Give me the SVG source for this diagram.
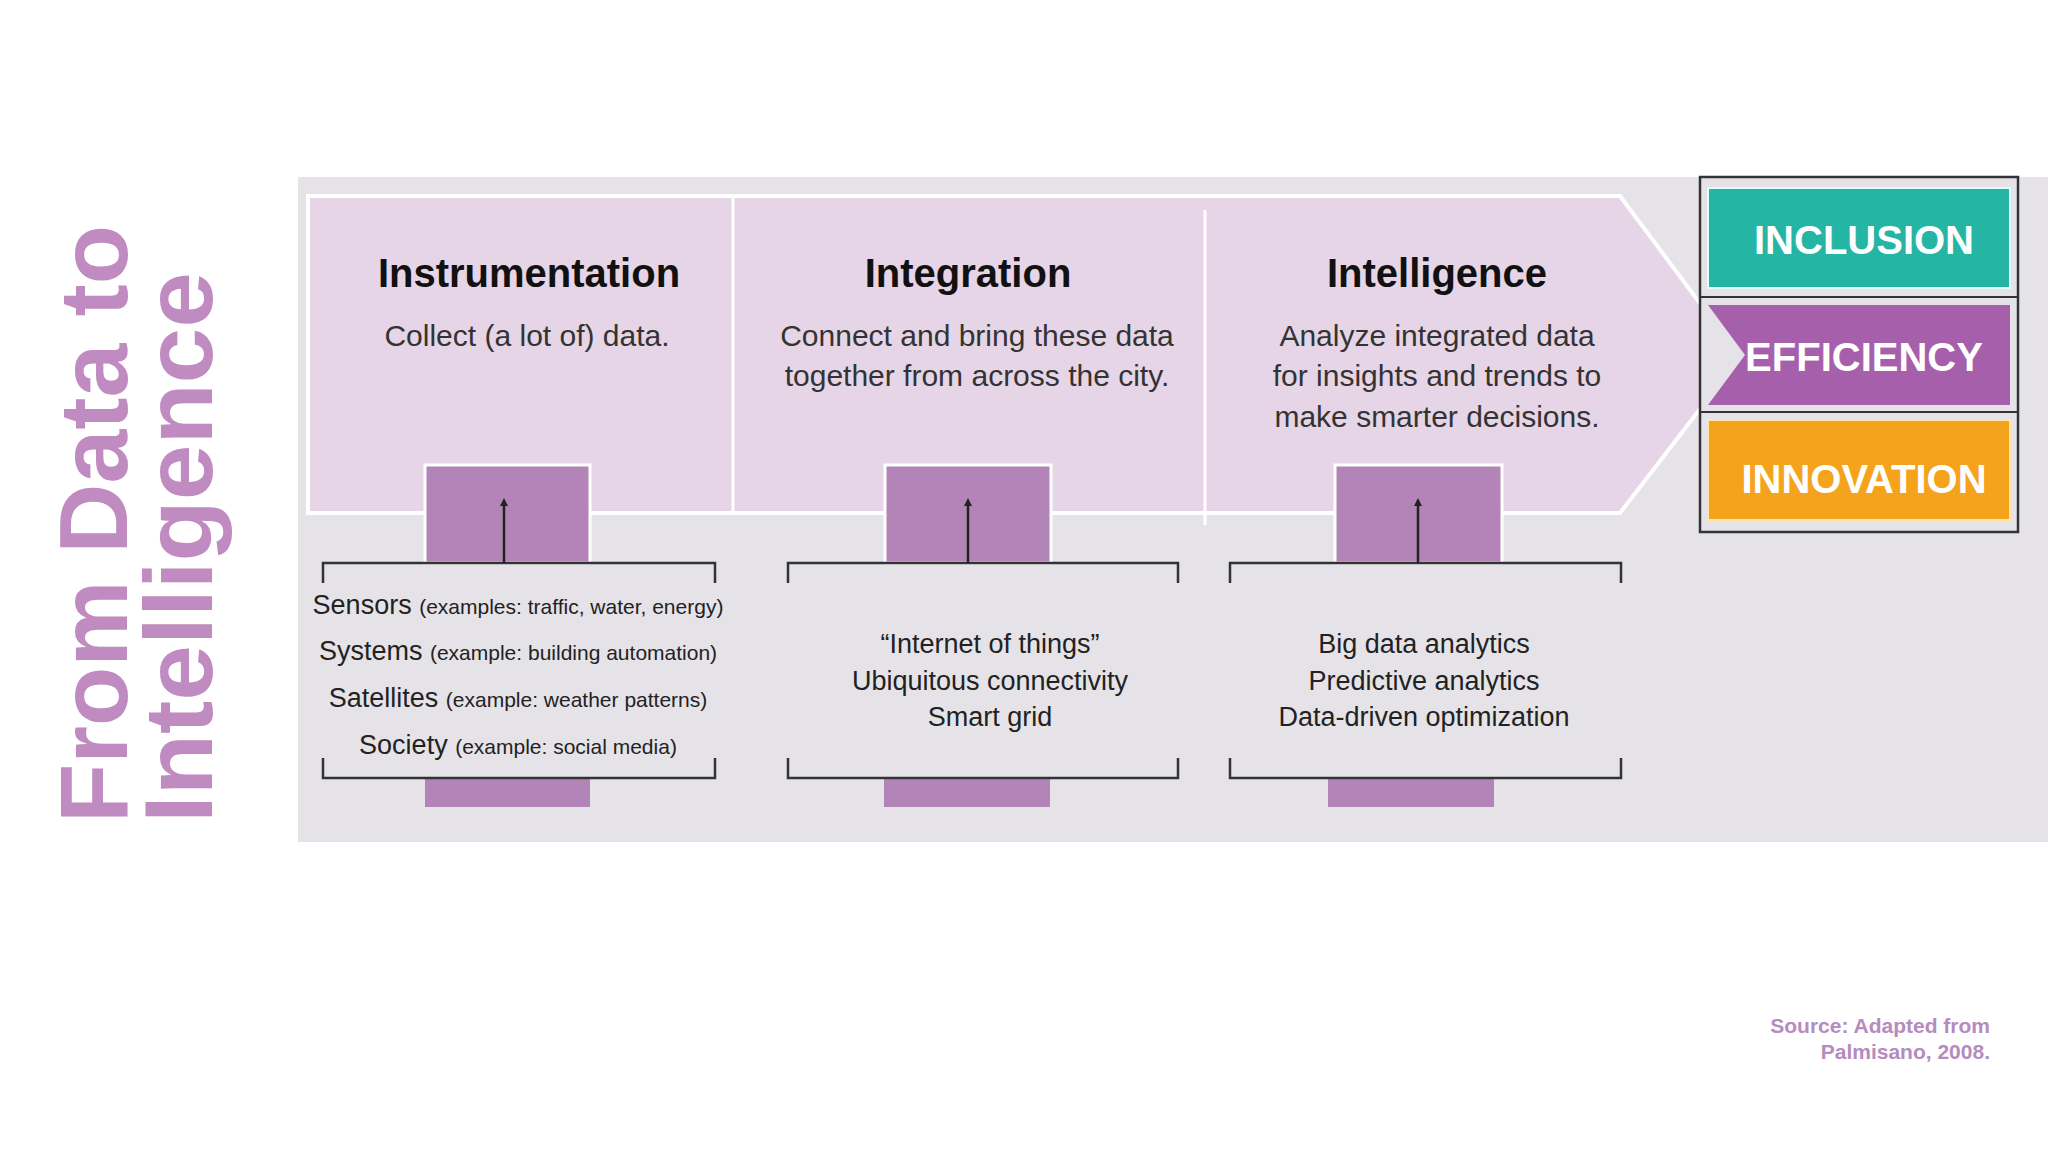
<svg xmlns="http://www.w3.org/2000/svg" width="2048" height="1152" viewBox="0 0 2048 1152">
<defs>
<style>
.t{font-family:"Liberation Sans",Arial,sans-serif;fill:#111;text-anchor:middle}
.h{font-weight:bold;font-size:40px}
.s{font-size:30px;fill:#333}
.b{font-size:27px;fill:#222}
.e{font-size:21px}
.stub{fill:#b384b8}
.br{fill:none;stroke:#333;stroke-width:2.5}
.ar{stroke:#222;stroke-width:2.5;marker-end:url(#ah)}
.big{font-family:"Liberation Sans",Arial,sans-serif;font-weight:bold;fill:#fff;text-anchor:middle;font-size:40px}
</style>
<marker id="ah" markerWidth="8" markerHeight="8" refX="4" refY="4" orient="auto" markerUnits="userSpaceOnUse"><path d="M0,0 L8,4 L0,8 Z" fill="#222"/></marker>
</defs>
<rect width="2048" height="1152" fill="#fff"/>
<rect x="298" y="177" width="1750" height="665" fill="#e5e3e8"/>
<g id="panel">
<path d="M308,196 L1620,196 L1740,357 L1620,513 L308,513 Z" fill="#e6d5e6" stroke="#fff" stroke-width="4"/>
<line x1="733" y1="196" x2="733" y2="513" stroke="#fff" stroke-width="3"/>
<line x1="1205" y1="210" x2="1205" y2="525" stroke="#fff" stroke-width="3"/>
</g>
<g id="col1">
<text class="t h" x="529" y="287">Instrumentation</text>
<text class="t s" x="527" y="346">Collect (a lot of) data.</text>
<rect class="stub" x="425" y="465" width="165" height="98" stroke="#fff" stroke-width="3"/>
<rect class="stub" x="425" y="778" width="165" height="29"/>
<path class="br" d="M323,583 V563 H715 V583 M323,758 V778 H715 V758"/>
<text class="t b" x="518" y="614">Sensors <tspan class="e">(examples: traffic, water, energy)</tspan></text>
<text class="t b" x="518" y="660">Systems <tspan class="e">(example: building automation)</tspan></text>
<text class="t b" x="518" y="707">Satellites <tspan class="e">(example: weather patterns)</tspan></text>
<text class="t b" x="518" y="754">Society <tspan class="e">(example: social media)</tspan></text>
</g>
<g id="col2">
<text class="t h" x="968" y="287">Integration</text>
<text class="t s" x="977" y="346">Connect and bring these data</text>
<text class="t s" x="977" y="386">together from across the city.</text>
<rect class="stub" x="885" y="465" width="166" height="98" stroke="#fff" stroke-width="3"/>
<rect class="stub" x="884" y="778" width="166" height="29"/>
<path class="br" d="M788,583 V563 H1178 V583 M788,758 V778 H1178 V758"/>
<text class="t b" x="990" y="653">“Internet of things”</text>
<text class="t b" x="990" y="690">Ubiquitous connectivity</text>
<text class="t b" x="990" y="726">Smart grid</text>
</g>
<g id="col3">
<text class="t h" x="1437" y="287">Intelligence</text>
<text class="t s" x="1437" y="346">Analyze integrated data</text>
<text class="t s" x="1437" y="386">for insights and trends to</text>
<text class="t s" x="1437" y="427">make smarter decisions.</text>
<rect class="stub" x="1335" y="465" width="167" height="98" stroke="#fff" stroke-width="3"/>
<rect class="stub" x="1328" y="778" width="166" height="29"/>
<path class="br" d="M1230,583 V563 H1621 V583 M1230,758 V778 H1621 V758"/>
<text class="t b" x="1424" y="653">Big data analytics</text>
<text class="t b" x="1424" y="690">Predictive analytics</text>
<text class="t b" x="1424" y="726">Data-driven optimization</text>
</g>
<g id="connectors">
<line class="ar" x1="504" y1="563" x2="504" y2="502"/>
<line class="ar" x1="968" y1="563" x2="968" y2="502"/>
<line class="ar" x1="1418" y1="563" x2="1418" y2="502"/>
</g>
<g id="outcomes">
<rect x="1700" y="177" width="318" height="355" fill="#e5e3e8" stroke="#333" stroke-width="2.5"/>
<line x1="1700" y1="297" x2="2018" y2="297" stroke="#333" stroke-width="2"/>
<line x1="1700" y1="412" x2="2018" y2="412" stroke="#333" stroke-width="2"/>
<rect x="1708" y="188" width="302" height="100" fill="#25b5a5" stroke="#dff" stroke-width="2"/>
<path d="M1708,305 H2010 V405 H1708 L1745,355 Z" fill="#a660ab"/>
<rect x="1708" y="420" width="302" height="100" fill="#f5a31d" stroke="#fde6b0" stroke-width="2"/>
<text class="big" x="1864" y="254">INCLUSION</text>
<text class="big" x="1864" y="371">EFFICIENCY</text>
<text class="big" x="1864" y="493">INNOVATION</text>
</g>
<g id="title" font-family="'Liberation Sans',Arial,sans-serif" font-weight="900" font-size="96" fill="#c08bc0">
<text transform="translate(127,823) rotate(-90)" textLength="598" lengthAdjust="spacingAndGlyphs">From Data to</text>
<text transform="translate(212,823) rotate(-90)" textLength="551" lengthAdjust="spacingAndGlyphs">Intelligence</text>
</g>
<g id="source" font-family="'Liberation Sans',Arial,sans-serif" font-weight="bold" font-size="21" fill="#b58bc0" text-anchor="end">
<text x="1990" y="1033">Source: Adapted from</text>
<text x="1990" y="1059">Palmisano,  2008.</text>
</g>
</svg>
